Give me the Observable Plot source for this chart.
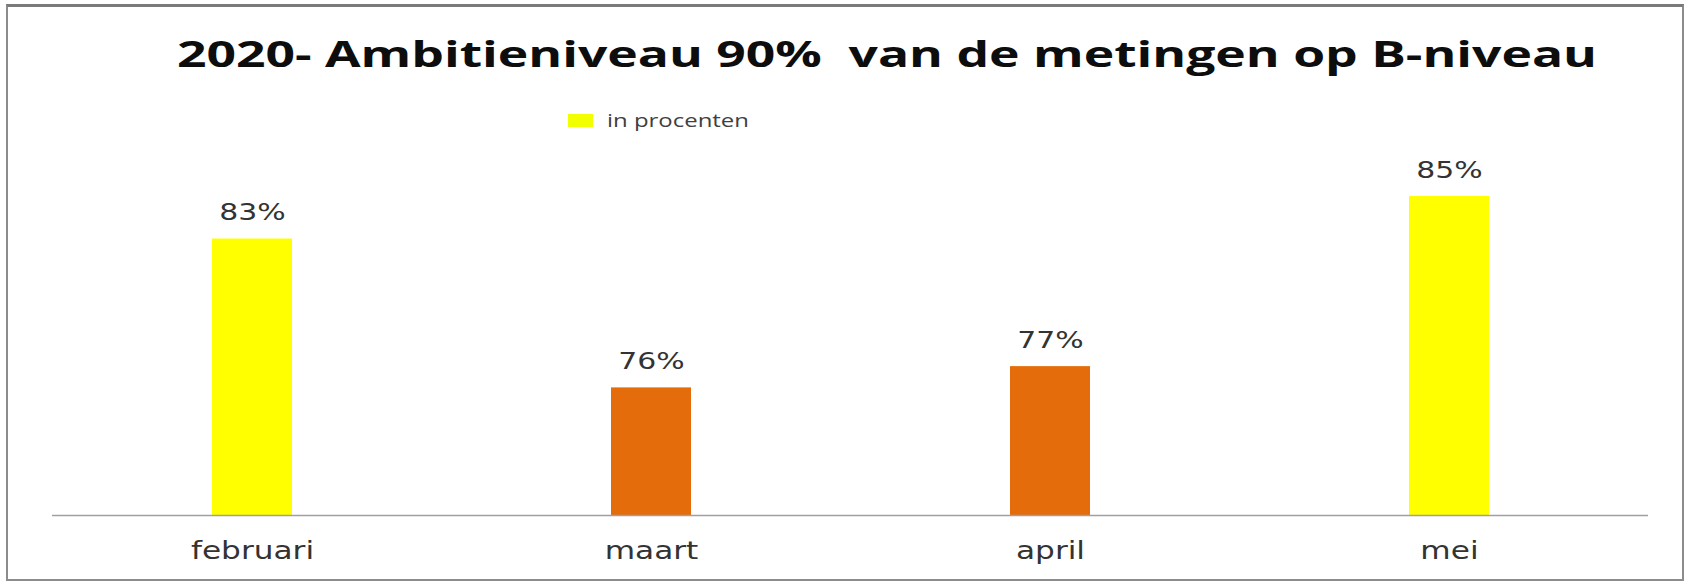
<!DOCTYPE html>
<html>
<head>
<meta charset="utf-8">
<script src="https://cdn.jsdelivr.net/npm/d3@7"></script>
<script src="https://cdn.jsdelivr.net/npm/@observablehq/plot@0.6"></script>
<style>
  html, body { margin: 0; padding: 0; background: #fff; }
  #wrap { position: relative; width: 1692px; height: 584px; overflow: hidden; background: #fff; }
  #frame { position: absolute; left: 6px; top: 4px; width: 1674px; height: 572px;
           border: 2px solid #8c8c8c; border-top: 3px solid #7a7a7a; box-sizing: content-box; }
  #title { position: absolute; left: 177px; top: 33px; white-space: pre;
           font-family: "Open Sans", Lato, sans-serif; font-weight: 700; font-size: 35px;
           font-variant-ligatures: none; line-height: 42px; color: #0d0d0d; transform-origin: 0 0; }
  #legend { position: absolute; left: 568px; top: 107px; height: 26px; display: flex; align-items: center; }
  #legend .sw { width: 25px; height: 13px; background: #F2FF00; margin-right: 14px; }
  #legend .lb { font-family: "Open Sans", Lato, sans-serif; font-size: 19px; color: #404040;
                white-space: pre; transform-origin: 0 50%; display: inline-block; }
  #chart { position: absolute; left: 0; top: 140px; }
</style>
</head>
<body>
<div id="wrap">
  <div id="frame"></div>
  <div id="title"></div>
  <div id="legend"><div class="sw"></div><span class="lb"></span></div>
  <div id="chart"></div>
</div>
<script>
// ---- data ----
const titleText = "2020- Ambitieniveau 90%  van de metingen op B-niveau";
const seriesName = "in procenten";
const months = ["februari", "maart", "april", "mei"];
const percentages = [83, 76, 77, 85];

const data = months.map((m, i) => ({month: m, value: percentages[i]}));

document.getElementById("title").textContent = titleText;
document.querySelector("#legend .lb").textContent = seriesName;

const chart = Plot.plot({
  width: 1692,
  height: 444,
  marginLeft: 52,
  marginRight: 44,
  marginTop: 56,
  marginBottom: 69,
  style: {background: "transparent", overflow: "visible"},
  x: {domain: months, paddingInner: 0.8, paddingOuter: 0.4, label: null},
  y: {domain: [70, 85], axis: null},
  color: {type: "threshold", domain: [80], range: ["#E46C0A", "#FFFF00"]},
  marks: [
    Plot.barY(data, {x: "month", y1: 70, y2: "value", fill: "value"}),
    Plot.ruleY([70], {stroke: "#a0a0a0", strokeWidth: 1.5}),
    Plot.text(data, {x: "month", y: "value", text: d => d.value + "%", dy: -26,
      lineAnchor: "middle", fontSize: 23, fill: "#333", fontFamily: "DejaVu Sans"}),
    Plot.axisX({tickSize: 0, tickPadding: 26, fontSize: 24, fill: "#333",
      fontFamily: "DejaVu Sans", label: null})
  ]
});
document.getElementById("chart").appendChild(chart);

// horizontal stretch of the texts, as in the reference picture
const sx = 1.3;
chart.querySelectorAll("text").forEach(t => {
  const b = t.getBBox();
  const cx = b.x + b.width / 2, cy = b.y + b.height / 2;
  const tr = t.getAttribute("transform") || "";
  t.setAttribute("transform", `${tr} translate(${cx},${cy}) scale(${sx},1) translate(${-cx},${-cy})`);
});

// fit the title and legend label to their widths in the reference
const title = document.getElementById("title");
const w = title.getBoundingClientRect().width;
title.style.transform = `scaleX(${1420 / w})`;
const lb = document.querySelector("#legend .lb");
const lw = lb.getBoundingClientRect().width;
lb.style.transform = `scaleX(${142 / lw})`;
</script>
</body>
</html>
